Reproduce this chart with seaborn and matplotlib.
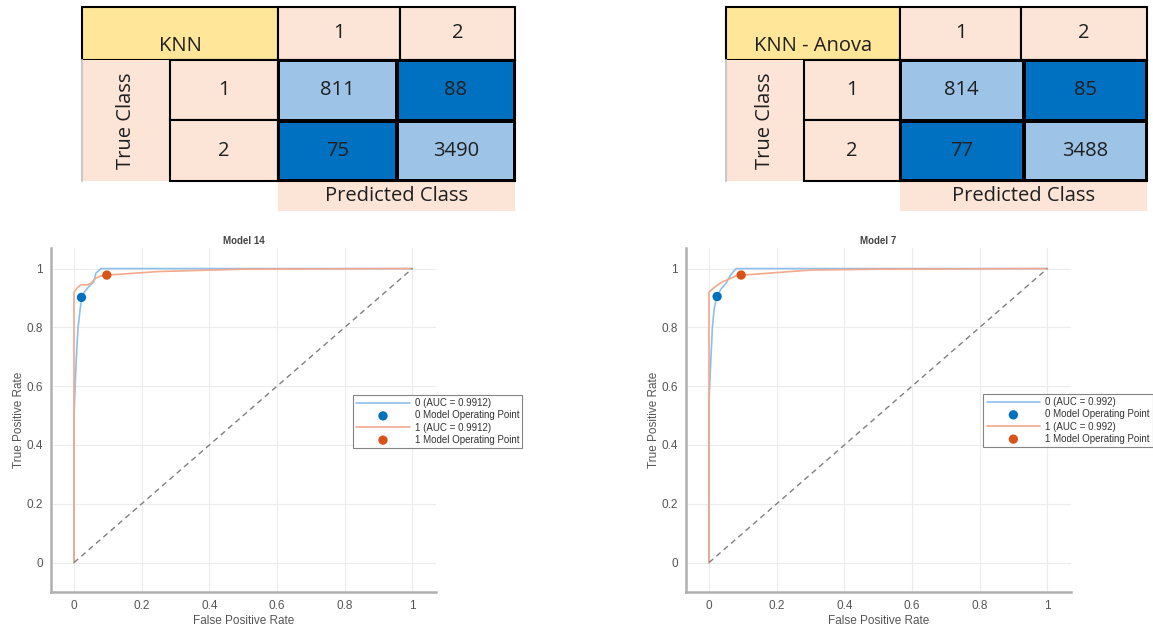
import numpy as np
import pandas as pd
import matplotlib
matplotlib.use("Agg")
import matplotlib.pyplot as plt
from matplotlib.colors import ListedColormap
from matplotlib.patches import Rectangle
import seaborn as sns

# ---------------- data ----------------
table_titles = ["KNN", "KNN - Anova"]
class_labels = ["1", "2"]
cm_knn = [[811, 88], [75, 3490]]
cm_anova = [[814, 85], [77, 3488]]
cell_kind = [[0, 1], [1, 0]]  # 0 = correct (light), 1 = error (dark)

roc_titles = ["Model 14", "Model 7"]
auc_left = "0.9912"
auc_right = "0.992"

# left ROC (KNN)
l0_fpr = [0.0, 0.0, 0.004, 0.008, 0.012, 0.02, 0.03, 0.045, 0.058, 0.065, 0.08, 0.2, 0.5, 1.0]
l0_tpr = [0.0, 0.50, 0.62, 0.72, 0.80, 0.88, 0.92, 0.94, 0.955, 0.985, 1.0, 1.0, 1.0, 1.0]
l1_fpr = [0.0, 0.0, 0.01, 0.02, 0.04, 0.05, 0.065, 0.08, 0.1, 0.15, 0.25, 0.5, 1.0]
l1_tpr = [0.0, 0.92, 0.935, 0.945, 0.945, 0.95, 0.968, 0.975, 0.978, 0.982, 0.99, 0.998, 1.0]
l_op0 = (0.022, 0.902)
l_op1 = (0.097, 0.978)

# right ROC (KNN - Anova)
r0_fpr = [0.0, 0.0, 0.005, 0.01, 0.015, 0.022, 0.035, 0.05, 0.065, 0.08, 0.2, 0.45, 1.0]
r0_tpr = [0.0, 0.55, 0.68, 0.80, 0.86, 0.90, 0.93, 0.95, 0.98, 1.0, 1.0, 1.0, 1.0]
r1_fpr = [0.0, 0.0, 0.01, 0.02, 0.04, 0.06, 0.08, 0.1, 0.15, 0.3, 0.5, 1.0]
r1_tpr = [0.0, 0.92, 0.93, 0.94, 0.955, 0.965, 0.975, 0.978, 0.982, 0.995, 0.998, 1.0]
r_op0 = (0.024, 0.905)
r_op1 = (0.095, 0.978)

chance_x = [0.0, 1.0]
chance_y = [0.0, 1.0]

# ---------------- style ----------------
sns.set_theme(style="white")
plt.rcParams["font.family"] = ["Liberation Sans", "DejaVu Sans"]

W, H = 1153, 625
fig = plt.figure(figsize=(W / 100, H / 100), dpi=100)

YELLOW = "#FFE699"
PEACH = "#FCE4D6"
LIGHTBLUE = "#9DC3E6"
DARKBLUE = "#0070C0"
TXT = "#1f1f1f"
TFONT = ["Open Sans", "DejaVu Sans"]
TSIZE = 14.5

bg = fig.add_axes([0, 0, 1, 1])
bg.set_xlim(0, W)
bg.set_ylim(H, 0)
bg.axis("off")
bg.set_zorder(0)


def px_axes(x0, y0, x1, y1):
    return [x0 / W, 1 - y1 / H, (x1 - x0) / W, (y1 - y0) / H]


def draw_table(title, cm, xs, ys):
    xl, xt, xr, xc1, xc2 = xs
    yt, yh, y1, y2, yp = ys
    bg.add_patch(Rectangle((xl, yt), xr - xl, yh - yt, fc=YELLOW, ec="black", lw=1.5))
    bg.text((xl + xr) / 2, yt + (yh - yt) * 0.74, title, ha="center", va="center",
            fontsize=TSIZE, color=TXT, family=TFONT)
    for lab, a, b in zip(class_labels, [xr, xc1], [xc1, xc2]):
        bg.add_patch(Rectangle((a, yt), b - a, yh - yt, fc=PEACH, ec="black", lw=1.5))
        bg.text((a + b) / 2, (yt + yh) / 2, lab, ha="center", va="center",
                fontsize=TSIZE, color=TXT, family=TFONT)
    bg.add_patch(Rectangle((xl, yh), xt - xl, y2 - yh, fc=PEACH, ec="none"))
    bg.plot([xl, xl], [yh, y2], color="#c8c8c8", lw=1.5)
    bg.text((xl + xt) / 2, (yh + y2) / 2, "True Class", ha="center", va="center",
            rotation=90, fontsize=TSIZE, color=TXT, family=TFONT)
    for lab, a, b in zip(class_labels, [yh, y1], [y1, y2]):
        bg.add_patch(Rectangle((xt, a), xr - xt, b - a, fc=PEACH, ec="black", lw=1.5))
        bg.text((xt + xr) / 2, (a + b) / 2, lab, ha="center", va="center",
                fontsize=TSIZE, color=TXT, family=TFONT)
    bg.add_patch(Rectangle((xr, y2), xc2 - xr, yp - y2, fc=PEACH, ec="none"))
    bg.text((xr + xc2) / 2, (y2 + yp) / 2, "Predicted Class", ha="center", va="center",
            fontsize=TSIZE, color=TXT, family=TFONT)
    hm = fig.add_axes(px_axes(xr, yh, xc2, y2))
    sns.heatmap(pd.DataFrame(cell_kind), ax=hm, cmap=ListedColormap([LIGHTBLUE, DARKBLUE]),
                vmin=0, vmax=1, cbar=False, annot=np.array(cm), fmt="d",
                annot_kws={"fontsize": TSIZE, "color": TXT, "family": TFONT},
                linewidths=1.5, linecolor="black", xticklabels=False, yticklabels=False)
    for sp in hm.spines.values():
        sp.set_visible(True)
        sp.set_color("black")
        sp.set_linewidth(1.5)


draw_table(table_titles[0], cm_knn, [82, 170, 278, 400, 515], [7, 60, 120, 181, 211])
draw_table(table_titles[1], cm_anova, [726, 804, 900, 1021, 1147], [7, 60, 120, 181, 211])

# ---------------- ROC plots ----------------
C0_LINE = "#8cc0ea"
C1_LINE = "#f4a88c"
C0_PT = "#0072BD"
C1_PT = "#D95319"


def draw_roc(ax, title, auc, f0, t0, f1, t1, op0, op1, leg_anchor):
    ax.set_facecolor("white")
    sns.lineplot(x=f0, y=t0, ax=ax, color=C0_LINE, lw=1.2, estimator=None, sort=False,
                 label=f"0 (AUC = {auc})")
    sns.scatterplot(x=[op0[0]], y=[op0[1]], ax=ax, color=C0_PT, s=45, edgecolor="none",
                    label="0 Model Operating Point", zorder=5)
    sns.lineplot(x=f1, y=t1, ax=ax, color=C1_LINE, lw=1.2, estimator=None, sort=False,
                 label=f"1 (AUC = {auc})")
    sns.scatterplot(x=[op1[0]], y=[op1[1]], ax=ax, color=C1_PT, s=45, edgecolor="none",
                    label="1 Model Operating Point", zorder=5)
    sns.lineplot(x=chance_x, y=chance_y, ax=ax, color="#7f7f7f", lw=1.0,
                 linestyle=(0, (4, 3)), estimator=None, sort=False, legend=False)
    ax.set_xlim(-0.068, 1.07)
    ax.set_ylim(-0.1, 1.07)
    ticks = [0, 0.2, 0.4, 0.6, 0.8, 1]
    labs = ["0", "0.2", "0.4", "0.6", "0.8", "1"]
    ax.set_xticks(ticks)
    ax.set_xticklabels(labs)
    ax.set_yticks(ticks)
    ax.set_yticklabels(labs)
    ax.grid(True, color="#ececec", lw=0.8)
    ax.tick_params(axis="both", labelsize=8.5, colors="#555555", length=3, width=0.8,
                   color="#aaaaaa", pad=3)
    for s in ["top", "right"]:
        ax.spines[s].set_visible(False)
    for s in ["left", "bottom"]:
        ax.spines[s].set_color("#b0b0b0")
        ax.spines[s].set_linewidth(1.8)
    ax.set_xlabel("False Positive Rate", fontsize=8.5, color="#555555", labelpad=2)
    ax.set_ylabel("True Positive Rate", fontsize=8.5, color="#555555", labelpad=1)
    ax.set_title(title, fontsize=7, fontweight="bold", color="#444444", pad=3)
    leg = ax.legend(loc="upper left", bbox_to_anchor=leg_anchor, fontsize=7,
                    frameon=True, fancybox=False, handlelength=5.5, borderpad=0.35,
                    labelspacing=0.22, handletextpad=0.5, borderaxespad=0)
    leg.get_frame().set_edgecolor("#666666")
    leg.get_frame().set_linewidth(0.8)
    for t in leg.get_texts():
        t.set_color("#333333")


ax1 = fig.add_axes(px_axes(51, 248, 436, 592))
draw_roc(ax1, roc_titles[0], auc_left, l0_fpr, l0_tpr, l1_fpr, l1_tpr, l_op0, l_op1, (0.784, 0.573))
ax2 = fig.add_axes(px_axes(686, 248, 1071, 592))
draw_roc(ax2, roc_titles[1], auc_right, r0_fpr, r0_tpr, r1_fpr, r1_tpr, r_op0, r_op1, (0.772, 0.576))

fig.savefig("out.png", dpi=100)
